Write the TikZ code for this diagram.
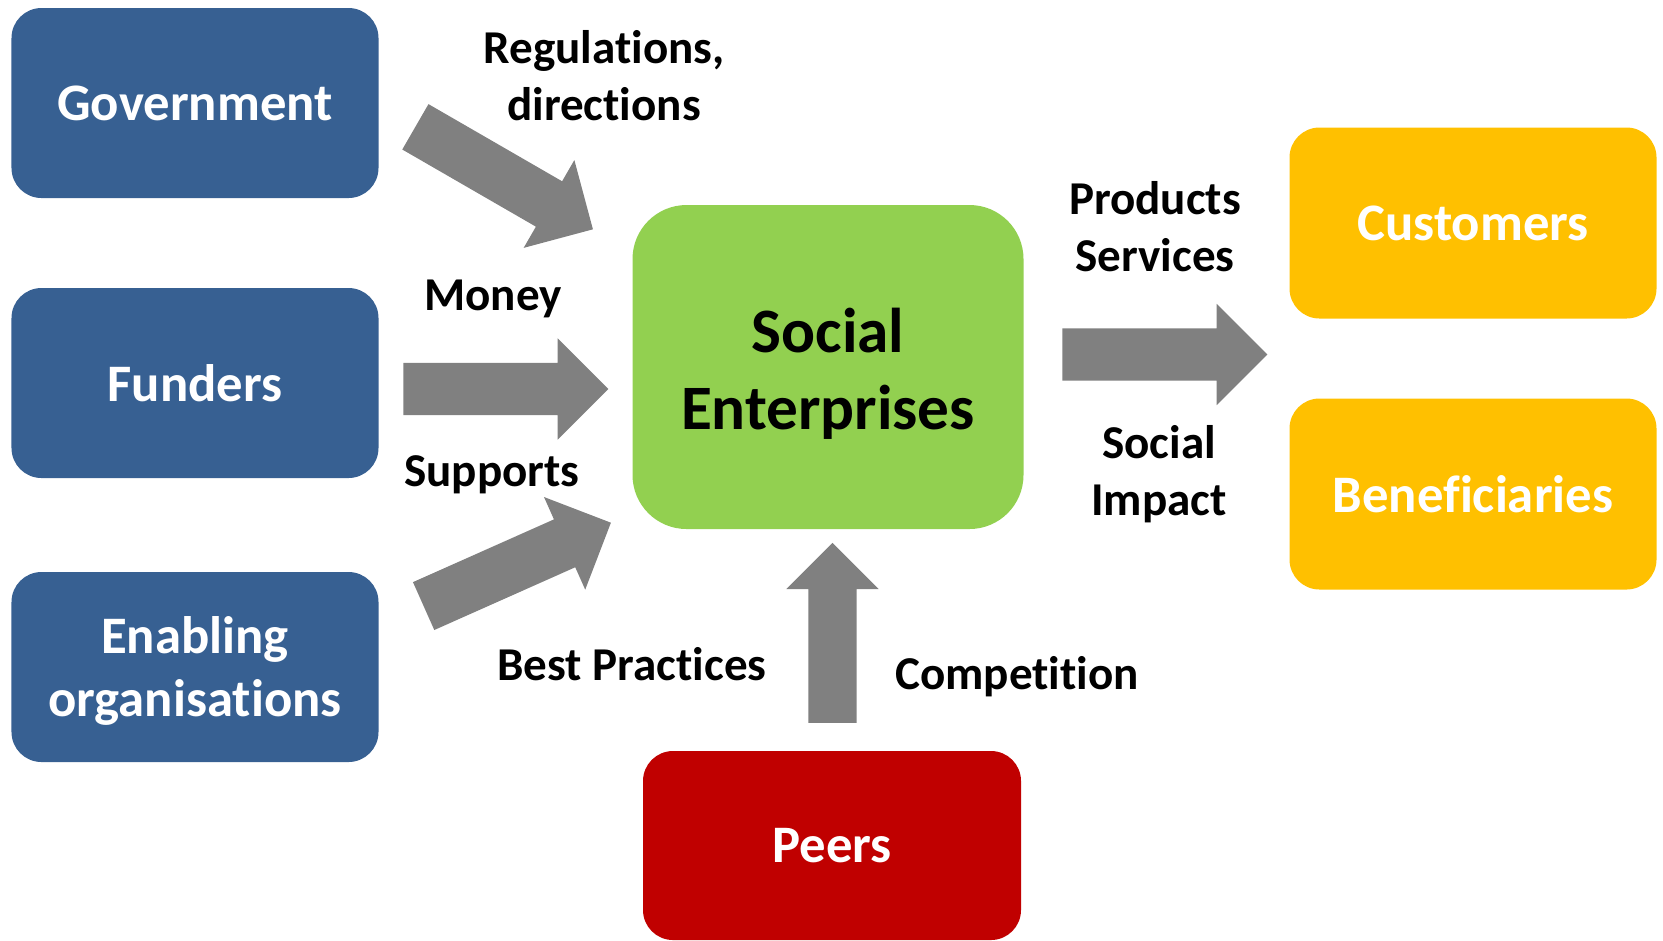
\documentclass[tikz,border=0pt]{standalone}
\usepackage{fontspec}
\setmainfont{Carlito}[Ligatures=NoCommon]
\usepackage{tikz}
\usetikzlibrary{shapes.arrows}
\definecolor{govblue}{HTML}{376092}
\definecolor{segreen}{HTML}{92D050}
\definecolor{custgold}{HTML}{FFC000}
\definecolor{peerred}{HTML}{C00000}
\definecolor{flowgray}{HTML}{808080}
\tikzstyle{actor} = [rectangle, rounded corners=0.3cm, minimum width=3.67cm,
  minimum height=1.9cm, text centered, align=center, fill=govblue, text=white,
  font=\fontsize{15}{18}\selectfont\bfseries]
\tikzstyle{enterprise} = [rectangle, rounded corners=0.54cm, minimum width=3.91cm,
  minimum height=3.24cm, text centered, align=center, fill=segreen,
  font=\fontsize{18}{21.8}\selectfont\bfseries]
\tikzstyle{receiver} = [actor, fill=custgold, minimum height=1.91cm]
\tikzstyle{peer} = [actor, fill=peerred, minimum width=3.78cm, minimum height=1.89cm]
\tikzstyle{flow} = [single arrow, fill=flowgray, minimum height=2.05cm,
  minimum width=1cm, single arrow head extend=0.245cm, inner sep=0.255cm]
\tikzstyle{flowlabel} = [align=center, font=\fontsize{13.4}{16.2}\selectfont\bfseries]

\begin{document}
\begin{tikzpicture}[node distance=2.8cm]
  \useasboundingbox (0,0) rectangle (16.63,-9.40);
  \node (gov) [actor] at (1.95,-1.03) {Government};
  \node (fund) [actor, below of=gov] {Funders};
  \node (enab) [actor, below of=fund, yshift=-0.04cm]
    {\rule{0pt}{12.9pt}Enabling\\organisations};
  \node (se) [enterprise, right of=fund, xshift=3.53cm, yshift=0.16cm]
    {\rule{0pt}{16.3pt}Social\\Enterprises};
  \node (peers) [peer, below of=se, xshift=0.04cm, yshift=-1.985cm] {Peers};
  \node (cust) [receiver, right of=se, xshift=3.65cm, yshift=1.44cm] {Customers};
  \node (ben) [receiver, below of=cust, yshift=0.09cm] {Beneficiaries};

  \node (regarr) [flow, right of=gov, xshift=0.178cm, yshift=-0.685cm,
    rotate=-30] {};
  \node (moneyarr) [flow, right of=fund, xshift=0.178cm, yshift=-0.06cm] {};
  \node (supparr) [flow, right of=enab, xshift=0.303cm, yshift=0.973cm,
    rotate=24] {};
  \node (prodarr) [flow, right of=se, xshift=0.438cm, yshift=0.125cm] {};
  \node (comparr) [flow, shape border rotate=90, minimum height=1.8cm,
    minimum width=0.91cm, inner sep=0.235cm, single arrow head extend=0.22cm,
    below of=se, xshift=0.045cm, yshift=0.02cm] {};

  \node (lreg) [flowlabel, right of=gov, xshift=1.29cm, yshift=0.27cm]
    {Regulations,\\directions};
  \node (lmoney) [flowlabel, right of=fund, xshift=0.18cm, yshift=0.84cm] {Money};
  \node (lsupp) [flowlabel, right of=fund, xshift=0.17cm, yshift=-0.92cm] {Supports};
  \node (lbest) [flowlabel, right of=enab, xshift=1.57cm, yshift=0.03cm]
    {Best Practices};
  \node (lcomp) [flowlabel, below of=se, xshift=1.89cm, yshift=-0.296cm]
    {Competition};
  \node (lprod) [flowlabel, right of=se, xshift=0.47cm, yshift=1.40cm]
    {Products\\Services};
  \node (limpact) [flowlabel, right of=se, xshift=0.51cm, yshift=-1.072cm]
    {Social\\Impact};
\end{tikzpicture}
\end{document}
